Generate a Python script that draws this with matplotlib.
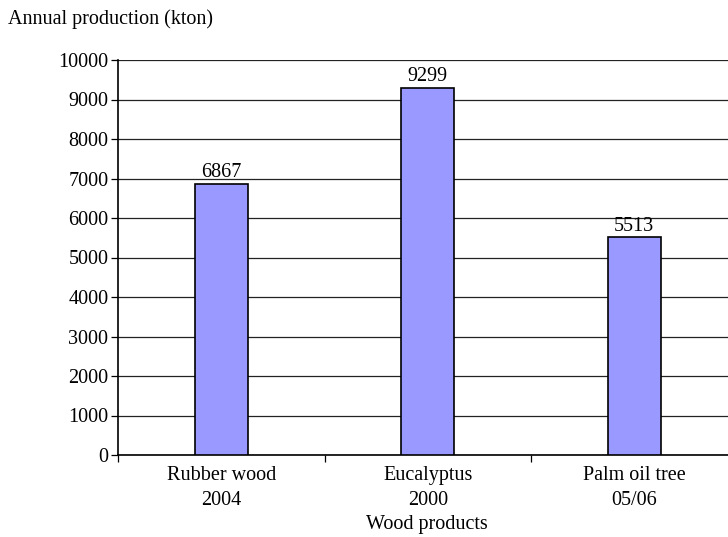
import matplotlib
matplotlib.use('Agg')
import matplotlib.pyplot as plt
import numpy as np

# chart data
categories = ['Rubber wood\n2004', 'Eucalyptus\n2000', 'Palm oil tree\n05/06']
production = [6867, 9299, 5513]
yticks = [0, 1000, 2000, 3000, 4000, 5000, 6000, 7000, 8000, 9000, 10000]

plt.rcParams['font.family'] = ['Liberation Serif', 'DejaVu Serif']
plt.rcParams['font.size'] = 14.5

fig = plt.figure(figsize=(7.28, 5.37), dpi=100)
# axes run past the right edge, as in the reference
ax = fig.add_axes([118 / 728, 1 - 455 / 537, 619.5 / 728, 395 / 537])

x = np.arange(len(categories))
ax.bar(x, production, width=0.257, color='#9999ff', edgecolor='black',
       linewidth=1.2, zorder=3)
for xi, v in zip(x, production):
    ax.text(xi, v + 40, str(v), ha='center', va='bottom', fontsize=14.5)

ax.set_ylim(0, 10000)
ax.set_xlim(-0.5, len(categories) - 0.5)
ax.set_yticks(yticks)
ax.yaxis.grid(True, color='#222222', linewidth=0.9, zorder=0)

# tick marks on category borders, labels in the middle
ax.set_xticks(np.arange(len(categories) + 1) - 0.5)
ax.set_xticklabels([])
ax.set_xticks(x, minor=True)
ax.set_xticklabels(categories, minor=True, linespacing=1.45)
ax.tick_params(axis='x', which='major', direction='out', length=5, width=0.9)
ax.tick_params(axis='x', which='minor', length=0, pad=8)
ax.tick_params(axis='y', direction='out', length=5, width=0.9, pad=2)

for s in ['top', 'right']:
    ax.spines[s].set_visible(False)
for s in ['left', 'bottom']:
    ax.spines[s].set_linewidth(1.2)

fig.text(8 / 728, 1 - 19 / 537, 'Annual production (kton)', ha='left',
         va='center', fontsize=14.5)
fig.text(427 / 728, 1 - 524 / 537, 'Wood products', ha='center',
         va='center', fontsize=14.5)

fig.savefig('out.png', dpi=100)
